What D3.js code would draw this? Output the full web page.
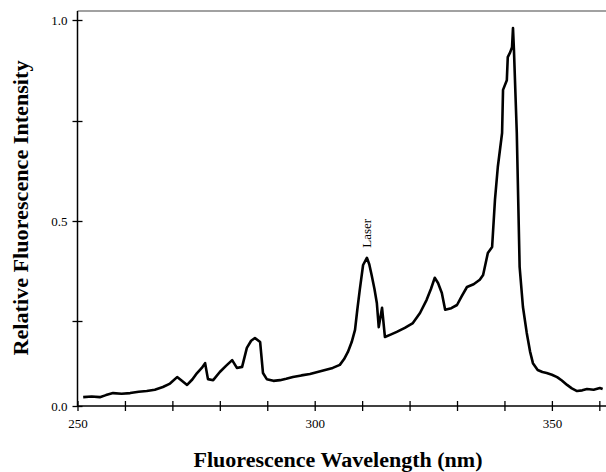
<!DOCTYPE html>
<html>
<head>
<meta charset="utf-8">
<script src="https://cdnjs.cloudflare.com/ajax/libs/d3/7.8.5/d3.min.js"></script>
<style>
  body { margin: 0; background: #fff; }
  svg { display: block; }
</style>
</head>
<body>
<div id="chart"></div>
<script>
// spectrum (wavelength nm, relative intensity)
const wavelength = [
  251.2, 253.0, 254.7, 256.0, 257.5, 259.3, 261.1, 262.9, 264.6, 266.3, 268.0, 269.5, 271.0, 272.0, 273.1,
  274.2, 275.2, 276.2, 276.9, 277.5, 278.6, 280.0, 281.3, 282.6, 283.6, 284.7, 285.7, 286.6, 287.4, 288.5,
  289.1, 289.9, 291.3, 292.7, 294.0, 295.4, 297.2, 299.0, 300.6, 302.2, 303.8, 305.3, 306.2, 307.0, 307.8,
  308.5, 309.0, 309.5, 310.2, 311.0, 311.5, 312.0, 312.6, 313.1, 313.5, 314.2, 314.8, 316.0, 317.3, 319.0,
  320.7, 322.2, 323.6, 324.5, 325.3, 326.0, 326.8, 327.5, 328.8, 330.0, 331.0, 332.1, 333.5, 334.8, 335.5,
  336.5, 337.4, 338.0, 338.6, 339.5, 339.7, 340.5, 340.7, 341.2, 341.6, 341.8, 342.0, 342.6, 343.2, 343.9,
  344.7, 345.4, 346.0, 347.0, 348.0, 348.9, 350.0, 351.1, 352.1, 353.2, 354.2, 355.3, 356.4, 357.4, 358.8,
  360.1, 360.7
];
const intensity = [
  0.026, 0.028, 0.026, 0.032, 0.038, 0.036, 0.038, 0.042, 0.044, 0.048, 0.056, 0.066, 0.085, 0.074, 0.062,
  0.078, 0.097, 0.112, 0.126, 0.079, 0.076, 0.100, 0.118, 0.135, 0.112, 0.115, 0.171, 0.192, 0.200, 0.188,
  0.097, 0.079, 0.074, 0.076, 0.080, 0.085, 0.090, 0.094, 0.100, 0.106, 0.112, 0.121, 0.138, 0.159, 0.188,
  0.224, 0.280, 0.328, 0.390, 0.408, 0.392, 0.365, 0.330, 0.295, 0.232, 0.283, 0.203, 0.210, 0.218, 0.230,
  0.244, 0.270, 0.303, 0.330, 0.358, 0.345, 0.320, 0.278, 0.282, 0.290, 0.312, 0.335, 0.342, 0.353, 0.365,
  0.420, 0.435, 0.553, 0.635, 0.720, 0.827, 0.851, 0.908, 0.920, 0.933, 0.980, 0.926, 0.720, 0.385, 0.285,
  0.215, 0.160, 0.126, 0.106, 0.100, 0.097, 0.092, 0.085, 0.075, 0.062, 0.052, 0.044, 0.046, 0.050, 0.048,
  0.053, 0.050
];
const xTicks = [250, 260, 270, 280, 290, 300, 310, 320, 330, 340, 350, 360];
const xLabels = [250, 300, 350];
const yTicks = [0, 0.25, 0.5, 0.75, 1.0];
const yLabels = [0, 0.5, 1.0];

const W = 606, H = 472;
const svg = d3.select("#chart").append("svg")
  .attr("width", W)
  .attr("height", H);

const x = d3.scaleLinear().domain([250, 361.3]).range([77.5, 605.5]);
// the printed axis is not evenly spaced, so the scale follows the tick marks
const y = d3.scaleLinear()
  .domain([0, 0.25, 0.5, 0.75, 1.0, 1.022])
  .range([406, 321, 221, 121, 20, 11]);

const serif = "'Liberation Serif', 'DejaVu Serif', serif";

// frame: top rule + left axis + bottom axis
svg.append("line")
  .attr("x1", x(250)).attr("x2", W)
  .attr("y1", y(1.022)).attr("y2", y(1.022))
  .style("stroke", "#444").style("stroke-width", 1.2);

const xAxis = svg.append("g")
  .attr("transform", "translate(0," + y(0) + ")")
  .call(d3.axisBottom(x).tickValues(xTicks).tickSize(5)
    .tickFormat(d => xLabels.includes(d) ? d : ""));
xAxis.select(".domain").attr("d", "M" + x(250) + ",0H" + W)
  .style("stroke", "#000").style("stroke-width", 1.5);
xAxis.selectAll(".tick line").attr("y1", -5).attr("y2", 5)
  .style("stroke", "#000").style("stroke-width", 1.3);
xAxis.selectAll(".tick text")
  .attr("y", 13)
  .style("font-family", serif).style("font-size", "13px").style("fill", "#000");

const yAxis = svg.append("g")
  .attr("transform", "translate(" + x(250) + ",0)")
  .call(d3.axisLeft(y).tickValues(yTicks).tickSize(5)
    .tickFormat(d => yLabels.includes(d) ? d3.format(".1f")(d) : ""));
yAxis.select(".domain").attr("d", "M0," + y(1.022) + "V" + y(0))
  .style("stroke", "#000").style("stroke-width", 1.5);
yAxis.selectAll(".tick line").attr("x1", -5).attr("x2", 5)
  .style("stroke", "#000").style("stroke-width", 1.3);
yAxis.selectAll(".tick text")
  .attr("x", -10)
  .style("font-family", serif).style("font-size", "13px").style("fill", "#000");

// spectrum
const pts = wavelength.map((w, i) => [w, intensity[i]]);
const line = d3.line()
  .x(d => x(d[0]))
  .y(d => y(d[1]));

svg.append("path")
  .datum(pts)
  .attr("d", line)
  .style("fill", "none")
  .style("stroke", "#000")
  .style("stroke-width", 2.6)
  .style("stroke-linejoin", "round");

// laser line label
svg.append("text")
  .attr("transform", "translate(" + (x(311) + 4) + "," + (y(0.408) - 10) + ") rotate(-90)")
  .style("font-family", serif)
  .style("font-size", "13px")
  .text("Laser");

// axis titles
svg.append("text")
  .attr("x", 338).attr("y", 467)
  .attr("text-anchor", "middle")
  .attr("textLength", 289).attr("lengthAdjust", "spacingAndGlyphs")
  .style("font-family", serif).style("font-weight", "bold").style("font-size", "20px")
  .text("Fluorescence Wavelength (nm)");

svg.append("text")
  .attr("transform", "translate(28,208) rotate(-90)")
  .attr("text-anchor", "middle")
  .attr("textLength", 295).attr("lengthAdjust", "spacingAndGlyphs")
  .style("font-family", serif).style("font-weight", "bold").style("font-size", "20px")
  .text("Relative Fluorescence Intensity");
</script>
</body>
</html>
